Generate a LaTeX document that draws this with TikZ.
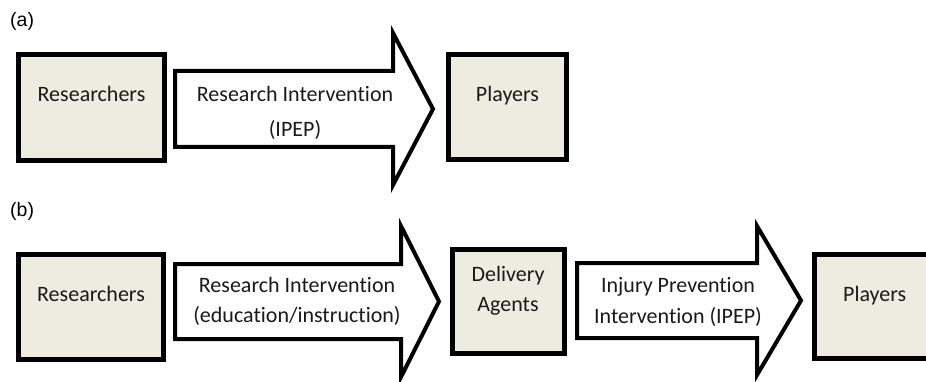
\documentclass[tikz,border=0pt]{standalone}
\usepackage{fontspec}
\setmainfont[Ligatures=NoCommon]{Carlito}
\newfontfamily\arialfont{Liberation Sans}
\definecolor{boxfill}{HTML}{EEECE1}
\definecolor{txtcol}{HTML}{1A1A1A}
\begin{document}
\begin{tikzpicture}[x=1pt,y=-1pt,
  box/.style={draw=black, fill=boxfill, line width=5pt, inner sep=0pt},
  blockarrow/.style={draw=black, fill=white, line width=4pt, line join=miter},
  txt/.style={font=\fontsize{22}{26}\selectfont, text=txtcol, anchor=base, inner sep=0pt},
  tag/.style={font=\arialfont\fontsize{19.5}{22}\selectfont, anchor=base west, inner sep=0pt}]
\useasboundingbox (0,0) rectangle (926,382);
\clip (0,0) rectangle (926,382);
% panel labels
\node[tag] (tagA) at (10,26.7) {(a)};
\node[tag] (tagB) at (10,216.7) {(b)};
% boxes
\node[box, minimum width=146pt, minimum height=106pt] (resA) at (91.5,107.5) {};
\node[box, minimum width=118pt, minimum height=105pt] (plA) at (507.5,107) {};
\node[box, minimum width=145pt, minimum height=105pt] (resB) at (91,307) {};
\node[box, minimum width=112pt, minimum height=104pt] (delB) at (508.5,301.5) {};
\node[box, minimum width=125pt, minimum height=104pt] (plB) at (877,306.5) {};
% block arrows
\draw[blockarrow] (175,71) -- (393,71) -- (393,33) -- (433,109) -- (393,185) -- (393,147) -- (175,147) -- cycle;
\draw[blockarrow] (175,264) -- (401,264) -- (401,226) -- (439,301.5) -- (401,377) -- (401,339) -- (175,339) -- cycle;
\draw[blockarrow] (577,263) -- (757,263) -- (757,226) -- (801,300.5) -- (757,375) -- (757,338) -- (577,338) -- cycle;
% texts
\node[txt] (tResA) at (91.5,102) {Researchers};
\node[txt] (tPlA) at (507.5,102) {Players};
\node[txt] (tArA1) at (295,102) {Research Intervention};
\node[txt] (tArA2) at (295,137) {(IPEP)};
\node[txt] (tResB) at (91,301) {Researchers};
\node[txt] (tArB1) at (297,292.7) {Research Intervention};
\node[txt] (tArB2) at (297,322.7) {(education/instruction)};
\node[txt] (tDel1) at (508,281) {Delivery};
\node[txt] (tDel2) at (508,311.7) {Agents};
\node[txt] (tArC1) at (678,292.7) {Injury Prevention};
\node[txt] (tArC2) at (678,323) {Intervention (IPEP)};
\node[txt] (tPlB) at (874.7,301.7) {Players};
\end{tikzpicture}
\end{document}
